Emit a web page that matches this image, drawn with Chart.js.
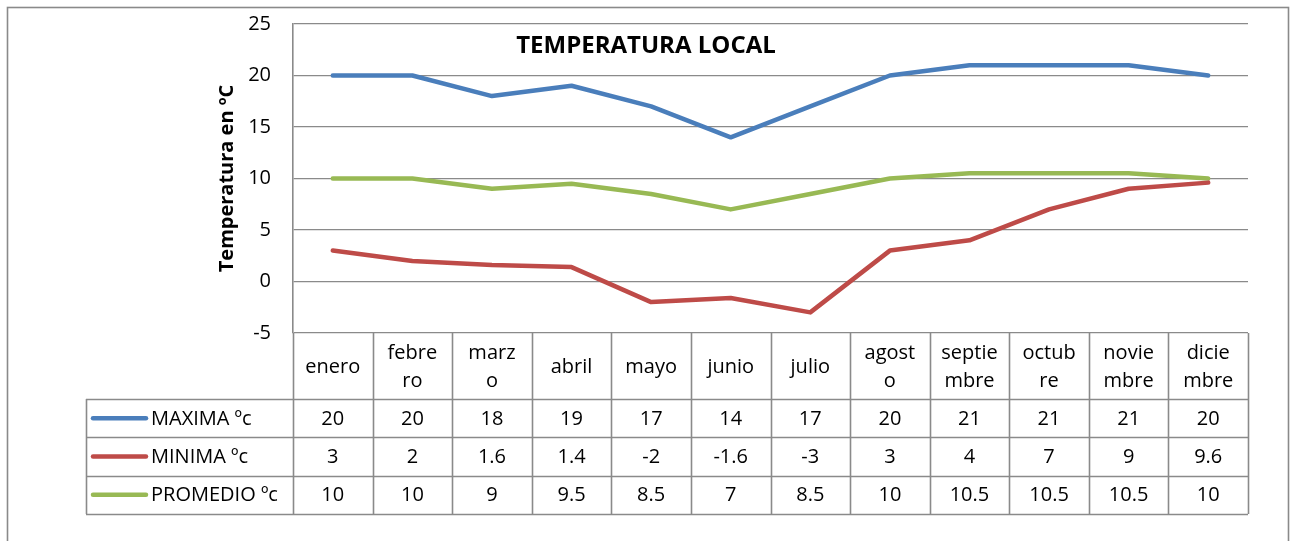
<!DOCTYPE html>
<html>
<head>
<meta charset="utf-8">
<script src="https://cdn.jsdelivr.net/npm/chart.js@4/dist/chart.umd.min.js"></script>
<style>
  html, body { margin: 0; padding: 0; background: #fff; }
  #wrap { width: 1294px; height: 541px; }
</style>
</head>
<body>
<div id="wrap"><canvas id="chart" width="1294" height="541"></canvas></div>
<script>
// Datos de temperatura por mes
const meses = ['enero', 'febrero', 'marzo', 'abril', 'mayo', 'junio', 'julio', 'agosto', 'septiembre', 'octubre', 'noviembre', 'diciembre']
// Etiquetas de la tabla tal como se cortan en las celdas
const etiquetasMes = [['enero'], ['febre', 'ro'], ['marz', 'o'], ['abril'], ['mayo'], ['junio'], ['julio'], ['agost', 'o'], ['septie', 'mbre'], ['octub', 're'], ['novie', 'mbre'], ['dicie', 'mbre']]
const maxima = [20, 20, 18, 19, 17, 14, 17, 20, 21, 21, 21, 20]
const minima = [3, 2, 1.6, 1.4, -2, -1.6, -3, 3, 4, 7, 9, 9.6]
const promedio = [10, 10, 9, 9.5, 8.5, 7, 8.5, 10, 10.5, 10.5, 10.5, 10]
const seriesNombres = ['MAXIMA ºc', 'MINIMA ºc', 'PROMEDIO ºc']
const colores = ['#4A7EBB', '#BE4B48', '#98B954']
const ticksY = { min: -5, max: 25, step: 5 }

const FUENTE = '"Open Sans", "Noto Sans", sans-serif'
const GRIS = '#8a8a8a'

// Tabla de datos debajo del gráfico + títulos + marco
const tablaPlugin = {
  id: 'tablaDatos',
  afterDraw(chart) {
    const { ctx, chartArea, scales } = chart
    const x = scales.x
    const top = chartArea.bottom
    const filaCab = 66
    const filaAlto = 38.3
    const izqLeyenda = 86
    const n = meses.length
    const bordes = []
    bordes.push(chartArea.left)
    for (let i = 0; i < n - 1; i++) {
      bordes.push((x.getPixelForValue(i) + x.getPixelForValue(i + 1)) / 2)
    }
    bordes.push(chartArea.right)
    const yCab = top + filaCab
    const filas = [maxima, minima, promedio]
    const yFin = yCab + filaAlto * filas.length

    ctx.save()
    ctx.strokeStyle = GRIS
    ctx.lineWidth = 1.6
    ctx.beginPath()
    // verticales de columnas
    bordes.forEach(bx => {
      ctx.moveTo(Math.round(bx) + 0.5, top)
      ctx.lineTo(Math.round(bx) + 0.5, yFin)
    })
    ctx.moveTo(izqLeyenda + 0.5, yCab)
    ctx.lineTo(izqLeyenda + 0.5, yFin)
    // horizontales
    for (let r = 0; r <= filas.length; r++) {
      const yy = Math.round(yCab + r * filaAlto) + 0.5
      ctx.moveTo(izqLeyenda, yy)
      ctx.lineTo(chartArea.right, yy)
    }
    ctx.stroke()

    // cabecera de meses
    ctx.fillStyle = '#000'
    ctx.font = '20px ' + FUENTE
    ctx.textAlign = 'center'
    ctx.textBaseline = 'middle'
    etiquetasMes.forEach((lineas, i) => {
      const cx = x.getPixelForValue(i)
      const cy = top + filaCab / 2 + 1
      const alto = 28
      lineas.forEach((t, k) => {
        ctx.fillText(t, cx, cy + (k - (lineas.length - 1) / 2) * alto)
      })
    })

    // filas de valores con su leyenda
    filas.forEach((valores, r) => {
      const cy = yCab + r * filaAlto + filaAlto / 2 + 1
      valores.forEach((v, i) => {
        ctx.textAlign = 'center'
        ctx.fillText(String(v), x.getPixelForValue(i), cy)
      })
      ctx.strokeStyle = colores[r]
      ctx.lineWidth = 4.5
      ctx.lineCap = 'round'
      ctx.beginPath()
      ctx.moveTo(93, cy - 1)
      ctx.lineTo(146, cy - 1)
      ctx.stroke()
      ctx.textAlign = 'left'
      ctx.fillText(seriesNombres[r], 151, cy)
    })

    // título
    ctx.font = 'bold 24px ' + FUENTE
    ctx.textAlign = 'center'
    ctx.fillText('TEMPERATURA LOCAL', 646, 46)

    // título del eje Y
    ctx.save()
    ctx.translate(227, (chartArea.top + chartArea.bottom) / 2)
    ctx.rotate(-Math.PI / 2)
    ctx.font = 'bold 20px ' + FUENTE
    ctx.fillText('Temperatura en ºC', 0, 0)
    ctx.restore()

    // marco exterior
    ctx.strokeStyle = GRIS
    ctx.lineWidth = 1.6
    ctx.strokeRect(7.5, 7.5, 1281, 560)
    ctx.restore()
  }
}

const serie = (label, data, color) => ({
  label, data,
  borderColor: color,
  backgroundColor: color,
  borderWidth: 4.5,
  pointRadius: 0,
  tension: 0,
  borderCapStyle: 'round',
  borderJoinStyle: 'round'
})

new Chart(document.getElementById('chart'), {
  type: 'line',
  data: {
    labels: meses,
    datasets: [
      serie(seriesNombres[0], maxima, colores[0]),
      serie(seriesNombres[1], minima, colores[1]),
      serie(seriesNombres[2], promedio, colores[2])
    ]
  },
  options: {
    responsive: false,
    animation: false,
    layout: { padding: { left: 0, top: 24, right: 46, bottom: 208 } },
    plugins: {
      legend: { display: false },
      tooltip: { enabled: false }
    },
    scales: {
      x: {
        display: false,
        offset: true
      },
      y: {
        min: ticksY.min,
        max: ticksY.max,
        afterFit(scale) {
          scale.width = 293
          scale.paddingTop = 0
          scale.paddingBottom = 0
        },
        grid: { color: GRIS, lineWidth: 1.3, drawTicks: false },
        border: { display: true, color: GRIS, width: 1.6 },
        ticks: {
          stepSize: ticksY.step,
          padding: 22,
          color: '#000',
          font: { family: FUENTE, size: 20 }
        }
      }
    }
  },
  plugins: [tablaPlugin]
})
</script>
</body>
</html>
